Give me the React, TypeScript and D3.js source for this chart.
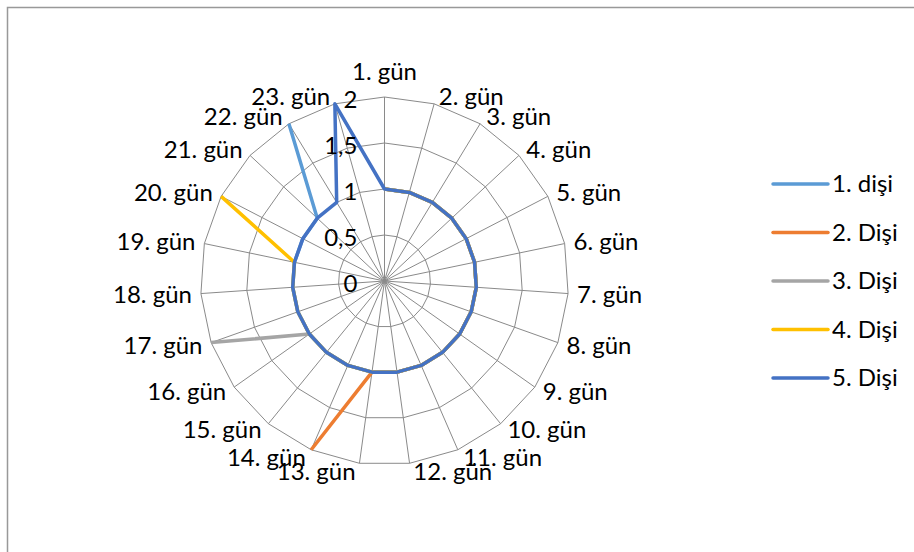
import React from "react";
import * as d3 from "d3";

const DAYS: string[] = [
  "1. gün", "2. gün", "3. gün", "4. gün", "5. gün", "6. gün", "7. gün", "8. gün",
  "9. gün", "10. gün", "11. gün", "12. gün", "13. gün", "14. gün", "15. gün", "16. gün",
  "17. gün", "18. gün", "19. gün", "20. gün", "21. gün", "22. gün", "23. gün",
];

const SERIES_NAMES: string[] = ["1. dişi", "2. Dişi", "3. Dişi", "4. Dişi", "5. Dişi"];

const DISI1: (number | null)[] = [1, 1, 1, 1, 1, 1, 1, 1, 1, 1, 1, 1, 1, 1, 1, 1, 1, 1, 1, 1, 1, 2, null];
const DISI2: (number | null)[] = [1, 1, 1, 1, 1, 1, 1, 1, 1, 1, 1, 1, 1, 2, null, null, null, null, null, null, null, null, null];
const DISI3: (number | null)[] = [1, 1, 1, 1, 1, 1, 1, 1, 1, 1, 1, 1, 1, 1, 1, 1, 2, null, null, null, null, null, null];
const DISI4: (number | null)[] = [1, 1, 1, 1, 1, 1, 1, 1, 1, 1, 1, 1, 1, 1, 1, 1, 1, 1, 1, 2, null, null, null];
const DISI5: (number | null)[] = [1, 1, 1, 1, 1, 1, 1, 1, 1, 1, 1, 1, 1, 1, 1, 1, 1, 1, 1, 1, 1, 1, 2];

const TICKS: number[] = [0, 0.5, 1, 1.5, 2];
const TICK_LABELS: string[] = ["0", "0,5", "1", "1,5", "2"];

const COLORS: string[] = ["#5B9BD5", "#ED7D31", "#A5A5A5", "#FFC000", "#4472C4"];

const W = 914;
const H = 552;
const CX = 384.5;
const CY = 281;
const R = 184;
const FONT = "Lato, Calibri, 'Open Sans', sans-serif";
const FS = 24;
const GRID = "#8a8a8a";

export default function App() {
  const allSeries = [DISI1, DISI2, DISI3, DISI4, DISI5];
  const n = DAYS.length;
  const angle = d3.scaleLinear().domain([0, n]).range([0, 2 * Math.PI]);
  const r = d3.scaleLinear().domain([0, 2]).range([0, R]);

  const pt = (i: number, v: number): [number, number] => {
    const a = angle(i);
    return [CX + Math.sin(a) * r(v), CY - Math.cos(a) * r(v)];
  };

  const ringPath = (v: number) => {
    const pts = DAYS.map((_, i) => pt(i, v));
    return "M" + pts.map((p) => p.join(",")).join("L") + "Z";
  };

  const seriesPath = (vals: (number | null)[]) => {
    const hasNull = vals.some((v) => v == null);
    const gen = d3
      .lineRadial<number | null>()
      .angle((_, i) => angle(i))
      .radius((d) => r(d as number))
      .defined((d) => d != null)
      .curve(hasNull ? d3.curveLinear : d3.curveLinearClosed);
    return gen(vals) || "";
  };

  return (
    <svg
      width={W}
      height={H}
      style={{ position: "absolute", left: 0, top: 0, background: "#fff" }}
      fontFamily={FONT}
    >
      <rect x={0} y={0} width={W} height={H} fill="#fff" />
      <rect x={7.5} y={7.5} width={W + 20} height={H + 20} fill="none" stroke="#999" strokeWidth={1.5} />

      {/* grid rings */}
      {TICKS.filter((t) => t > 0).map((t) => (
        <path key={"ring" + t} d={ringPath(t)} fill="none" stroke={GRID} strokeWidth={1} />
      ))}
      {/* spokes */}
      {DAYS.map((_, i) => {
        const [x, y] = pt(i, 2);
        return <line key={"sp" + i} x1={CX} y1={CY} x2={x} y2={y} stroke={GRID} strokeWidth={1} />;
      })}

      {/* series */}
      {allSeries.map((vals, si) => (
        <path
          key={"s" + si}
          d={seriesPath(vals)}
          transform={`translate(${CX},${CY})`}
          fill="none"
          stroke={COLORS[si]}
          strokeWidth={3.5}
          strokeLinejoin="round"
        />
      ))}

      {/* tick labels */}
      {TICKS.map((t, i) => (
        <text
          key={"tk" + t}
          x={CX - 27}
          y={CY - r(t) + 3}
          dy="0.35em"
          textAnchor="end"
          fontSize={FS}
          fill="#000"
        >
          {TICK_LABELS[i]}
        </text>
      ))}

      {/* category labels */}
      {DAYS.map((d, i) => {
        const a = angle(i);
        const s = Math.sin(a);
        const c = Math.cos(a);
        const [px, py] = pt(i, 2);
        let anchor = "middle";
        let x = px;
        if (s > 0.05) {
          anchor = "start";
          x = px + 3 + 6 * s;
        } else if (s < -0.05) {
          anchor = "end";
          x = px - 3 - 6 * Math.abs(s);
        }
        let y = py - c * 8;
        if (Math.abs(s) <= 0.05) y = py - c * 25;
        return (
          <text key={"lb" + i} x={x} y={y} dy="0.35em" textAnchor={anchor} fontSize={FS} fill="#000">
            {d}
          </text>
        );
      })}

      {/* legend */}
      {SERIES_NAMES.map((name, i) => {
        const y = 184 + i * 48.5;
        return (
          <g key={"lg" + i}>
            <line x1={773} x2={828} y1={y} y2={y} stroke={COLORS[i]} strokeWidth={3.5} strokeLinecap="round" />
            <text x={832} y={y} dy="0.35em" fontSize={FS} fill="#000">
              {name}
            </text>
          </g>
        );
      })}
    </svg>
  );
}
